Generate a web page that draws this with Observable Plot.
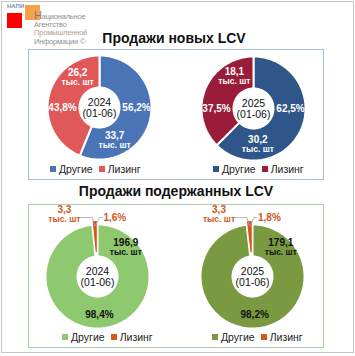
<!DOCTYPE html>
<html><head><meta charset="utf-8">
<script src="https://cdn.jsdelivr.net/npm/d3@7"></script>
<script src="https://cdn.jsdelivr.net/npm/@observablehq/plot@0.6"></script>
<style>
body{margin:0;background:#fff;font-family:"Liberation Sans",Arial,sans-serif;}
#page{position:relative;width:355px;height:356px;overflow:hidden;background:#fff;}
.abs{position:absolute;}
.title{position:absolute;font-weight:bold;font-size:14px;color:#111;white-space:nowrap;transform:translate(-50%,-50%);}
.legend{position:absolute;font-size:10.5px;color:#222;white-space:nowrap;transform:translateY(-50%);display:flex;align-items:center;}
.legend .sw{display:inline-block;width:6px;height:6px;margin-right:3px;}
.legend .it{display:flex;align-items:center;margin-right:6px;}
.logo{position:absolute;font-family:"Liberation Sans",Arial,sans-serif;font-size:7.5px;line-height:8.2px;color:#8f8f8f;letter-spacing:-0.2px;}
.donut{position:absolute;}
.donut svg{overflow:visible;}
</style></head>
<body><div id="page">
  <div class="abs" style="left:1px;top:1px;width:351px;height:350px;border:1px solid #c6c6c6;"></div>
  <!-- logo -->
  <div class="abs" style="left:7px;top:3px;font-size:6px;font-weight:bold;color:#7b8db0;">НАПИ</div>
  <div class="abs" style="left:7px;top:13px;width:15px;height:15px;background:#ff0000;"></div>
  <div class="abs" style="left:25px;top:5px;width:15px;height:15px;background:rgba(246,146,40,0.85);"></div>
  <div class="logo" style="left:34px;top:11px;"><span style="font-size:11px;color:#7a7a7a">Н</span>ациональное<br>Агентство<br><span style="color:#b89a8a">Промышленной</span><br>Информации ©</div>

  <div class="title" style="left:174px;top:38px;">Продажи новых LCV</div>
  <div class="abs" style="left:28px;top:49px;width:294px;height:129px;border:1.5px solid #a8bad8;"></div>
  <div class="title" style="left:176px;top:191px;">Продажи подержанных LCV</div>
  <div class="abs" style="left:28px;top:204px;width:294px;height:142px;border:1.5px solid #aad2aa;"></div>
</div>
<script>
// ---- data ----
const groups = ["Другие", "Лизинг"];
const years = ["2024", "2025"];
const period = "(01-06)";
const unit = "тыс. шт";
const newShares = [[56.2, 43.8], [62.5, 37.5]];
const newCounts = [[33.7, 26.2], [30.2, 18.1]];
const usedShares = [[98.4, 1.6], [98.2, 1.8]];
const usedCounts = [[196.9, 3.3], [179.1, 3.3]];
const newColors = [["#4a74b6", "#e05858"], ["#2f5689", "#9b1b3b"]];
const usedColors = [["#8ec86f", "#d5581a"], ["#799a41", "#d5581a"]];

const BIG = 10, SMALL = 8.5;
const fmt = v => v.toFixed(1).replace(".", ",");
const polar = (a, r) => { const t = a * Math.PI / 180; return [r * Math.sin(t), r * Math.cos(t)]; };

function slicePts(a0, a1, r0, r1, off) {
  const pts = [], n = Math.max(4, Math.ceil((a1 - a0) / 2));
  for (let i = 0; i <= n; i++) pts.push(polar(a0 + (a1 - a0) * i / n, r1));
  for (let i = n; i >= 0; i--) pts.push(polar(a0 + (a1 - a0) * i / n, r0));
  pts.push(pts[0]);
  return pts.map(p => [p[0] + off[0], p[1] + off[1]]);
}

function donut(shares, counts, colors, year, opts) {
  const R = 52, r0 = 20;
  const marks = [];
  let a = 0;
  const texts = [];
  const total = d3.sum(shares);
  const small = shares.map(s => s / total < 0.05);
  shares.forEach((s, i) => {
    const span = s / total * 360, a0 = a, a1 = a + span, mid = (a0 + a1) / 2;
    a = a1;
    const off = small[i] ? polar(mid, 4) : [0, 0];
    marks.push(Plot.line(slicePts(a0, a1, r0, R, off), {x: d => d[0], y: d => d[1], fill: colors[i], stroke: "white", strokeWidth: small[i] ? 1 : 2, curve: "linear"}));
    const pct = fmt(s) + "%", cnt = fmt(counts[i]);
    if (small[i]) {
      const an = polar(mid, R + 10);
      const tip = polar(mid, R + 3);
      const col = opts.outColor;
      marks.push(Plot.line([[an[0] - 15, an[1] - 3], [an[0] - 2, an[1] - 3], [tip[0] + off[0], tip[1] + off[1] - 8]], {x: d => d[0], y: d => d[1], stroke: "#a6a6a6", strokeWidth: 0.8}));
      marks.push(Plot.line([[an[0] + 8, an[1] - 3], [an[0] + 5, an[1] - 3], [tip[0] + off[0] + 1, tip[1] + off[1] - 8]], {x: d => d[0], y: d => d[1], stroke: "#a6a6a6", strokeWidth: 0.8}));
      texts.push({x: an[0] + 9, y: an[1] - 3, t: pct, size: BIG, anchor: "start", fill: col});
      texts.push({x: an[0] - 30, y: an[1] + 5, t: cnt, size: BIG, anchor: "middle", fill: col});
      texts.push({x: an[0] - 30, y: an[1] - 5, t: unit, size: SMALL, anchor: "middle", fill: col});
    } else if (small.some(v => v)) {
      const p = polar(mid, 38);
      texts.push({x: p[0], y: p[1], t: pct, size: BIG, anchor: "middle", fill: opts.inColor});
      const c = polar(45, 40);
      texts.push({x: c[0], y: c[1] + 5, t: cnt, size: BIG, anchor: "middle", fill: opts.inColor});
      texts.push({x: c[0], y: c[1] - 4.5, t: unit, size: SMALL, anchor: "middle", fill: opts.inColor});
    } else {
      const p = polar(mid < 180 ? 90 : 270, 37);
      texts.push({x: p[0], y: p[1], t: pct, size: BIG, anchor: "middle", fill: opts.inColor});
      const c = polar(a0 + 0.77 * span, 37);
      texts.push({x: c[0], y: c[1] + 5, t: cnt, size: BIG, anchor: "middle", fill: opts.inColor});
      texts.push({x: c[0], y: c[1] - 4.5, t: unit, size: SMALL, anchor: "middle", fill: opts.inColor});
    }
  });
  marks.push(
    Plot.text(texts.filter(d => d.size === BIG && d.anchor === "middle"), {x: "x", y: "y", text: "t", fill: d => d.fill, fontSize: BIG, fontWeight: "bold"}),
    Plot.text(texts.filter(d => d.size === BIG && d.anchor === "start"), {x: "x", y: "y", text: "t", fill: d => d.fill, fontSize: BIG, fontWeight: "bold", textAnchor: "start"}),
    Plot.text(texts.filter(d => d.size === SMALL), {x: "x", y: "y", text: "t", fill: d => d.fill, fontSize: SMALL, fontWeight: "bold"})
  );
  marks.push(Plot.text([{y: 5, t: year}, {y: -6, t: period}], {x: () => 0, y: "y", text: "t", fill: "#111", fontSize: 10.5}));
  return Plot.plot({
    width: 160, height: 160, margin: 0,
    x: {domain: [-80, 80], axis: null},
    y: {domain: [-80, 80], axis: null},
    color: {type: "identity"},
    style: {fontFamily: "Liberation Sans, Arial, sans-serif", background: "transparent", overflow: "visible"},
    marks
  });
}

const page = document.getElementById("page");
function place(el, cx, cy) {
  const d = document.createElement("div");
  d.className = "donut";
  d.style.left = (cx - 80) + "px";
  d.style.top = (cy - 80) + "px";
  d.appendChild(el);
  page.appendChild(d);
}
function legend(colors, left, top) {
  const d = document.createElement("div");
  d.className = "legend";
  d.style.left = left + "px"; d.style.top = top + "px";
  groups.forEach((g, i) => {
    const it = document.createElement("span"); it.className = "it";
    const sw = document.createElement("span"); sw.className = "sw"; sw.style.background = colors[i];
    it.appendChild(sw); it.appendChild(document.createTextNode(g));
    d.appendChild(it);
  });
  page.appendChild(d);
}

const newCenters = [[99, 107], [253, 108]];
const usedCenters = [[97, 276], [252, 276]];
years.forEach((y, k) => {
  place(donut(newShares[k], newCounts[k], newColors[k], y, {inColor: "#ffffff", outColor: "#ffffff"}), ...newCenters[k]);
  place(donut(usedShares[k], usedCounts[k], usedColors[k], y, {inColor: "#111111", outColor: "#d0561c"}), ...usedCenters[k]);
});
legend(newColors[0], 50, 169);
legend(newColors[1], 213, 169);
legend(usedColors[0], 62, 337);
legend(usedColors[1], 212, 337);
</script>
</body></html>
